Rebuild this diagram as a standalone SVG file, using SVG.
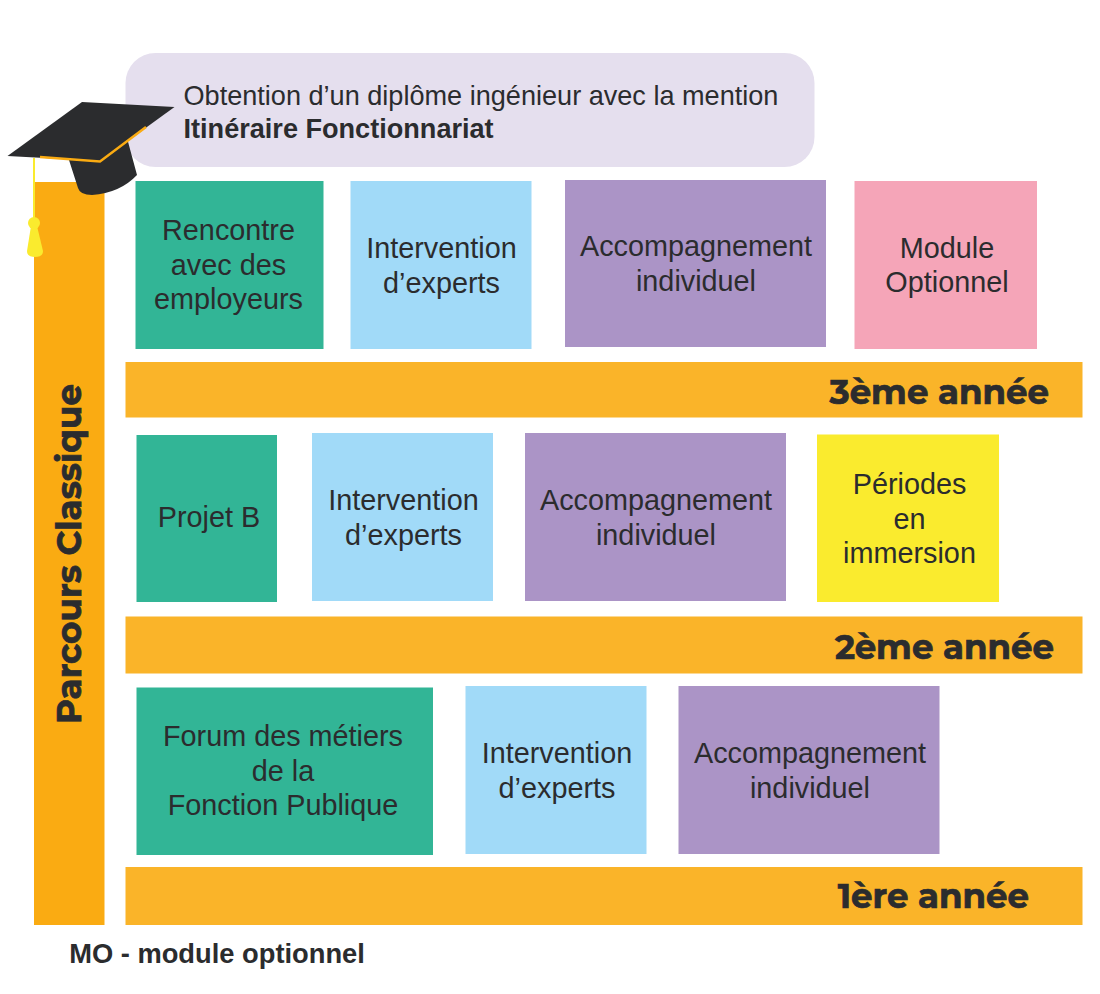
<svg xmlns="http://www.w3.org/2000/svg" width="1100" height="994" viewBox="0 0 1100 994">
<style>
text{font-family:"Liberation Sans",Arial,sans-serif;fill:#2b2c2e;text-anchor:middle}
.b{font-size:28.800px}
.t{font-size:27.100px;text-anchor:start}
.y{font-family:Montserrat,"Open Sans","DejaVu Sans",sans-serif;font-weight:700;font-size:34px;text-anchor:end;stroke:#2b2c2e;stroke-width:.7px}
.o{fill:#fab429}.g{fill:#32b596}.l{fill:#a1daf8}.p{fill:#ab94c6}
</style>
<rect width="1100" height="994" fill="#fff"/>
<g id="goal"><rect x="125.500" y="53" width="689" height="114" rx="30" fill="#e5dfee"/>
<text class="t" x="183.500" y="105">Obtention d’un diplôme ingénieur avec la mention</text>
<text class="t" x="183.500" y="138" font-weight="700">Itinéraire Fonctionnariat</text></g>
<g id="parcours"><rect x="34" y="182" width="70.500" height="743" fill="#faab12"/>
<text class="y" transform="translate(81 724) rotate(-90)" style="text-anchor:start" textLength="340" lengthAdjust="spacingAndGlyphs">Parcours Classique</text></g>
<g id="cap">
<path d="M69 160L78 188Q80 195 92 195Q120 193 137 175L127 138Z" fill="#2b2c2e"/>
<path d="M7.500 156L82 102L174.500 107L100 161Z" fill="#2b2c2e"/>
<path d="M40 157L100 161.500L146 127" fill="none" stroke="#faab12" stroke-width="2.500"/>
<path d="M34 158V220" stroke="#faeb2e" stroke-width="2" fill="none"/>
<circle cx="34" cy="223" r="6" fill="#faeb2e"/>
<path d="M31 226H37L43 251Q43 257 35 257Q27 257 27 251Z" fill="#faeb2e"/></g>
<g id="y3-a"><rect class="g" x="135.500" y="181" width="188" height="168"/><text class="b" x="228.500" y="239.500">Rencontre</text><text class="b" x="228.500" y="274.500">avec des</text><text class="b" x="228.500" y="309">employeurs</text></g>
<g id="y3-b"><rect class="l" x="350.500" y="181" width="181" height="168"/><text class="b" x="441.500" y="257.500">Intervention</text><text class="b" x="441.500" y="292.500">d’experts</text></g>
<g id="y3-c"><rect class="p" x="565" y="180" width="261" height="167"/><text class="b" x="696" y="256">Accompagnement</text><text class="b" x="696" y="290.500">individuel</text></g>
<g id="y3-d"><rect x="854.500" y="181" width="182.500" height="168" fill="#f5a5b8"/><text class="b" x="947" y="257.500">Module</text><text class="b" x="947" y="292">Optionnel</text></g>
<g id="y3"><rect class="o" x="125.500" y="362" width="957" height="55.500"/><text class="y" x="1049" y="404">3ème année</text></g>
<g id="y2-a"><rect class="g" x="136.500" y="435" width="140.500" height="167"/><text class="b" x="209" y="527">Projet B</text></g>
<g id="y2-b"><rect class="l" x="312" y="433" width="181" height="168"/><text class="b" x="403.500" y="509.500">Intervention</text><text class="b" x="403.500" y="544.500">d’experts</text></g>
<g id="y2-c"><rect class="p" x="525" y="433" width="261" height="168"/><text class="b" x="656" y="509.500">Accompagnement</text><text class="b" x="656" y="544.500">individuel</text></g>
<g id="y2-d"><rect x="817" y="434.500" width="182" height="167.500" fill="#faeb2e"/><text class="b" x="909.500" y="493.500">Périodes</text><text class="b" x="909.500" y="528.500">en</text><text class="b" x="909.500" y="563">immersion</text></g>
<g id="y2"><rect class="o" x="125.500" y="616.500" width="957" height="57"/><text class="y" x="1054" y="659">2ème année</text></g>
<g id="y1-a"><rect class="g" x="136.500" y="687.500" width="296.500" height="167.500"/><text class="b" x="283" y="745.500">Forum des métiers</text><text class="b" x="283" y="780.500">de la</text><text class="b" x="283" y="815">Fonction Publique</text></g>
<g id="y1-b"><rect class="l" x="465.500" y="686" width="181" height="168"/><text class="b" x="557" y="762.500">Intervention</text><text class="b" x="557" y="797.500">d’experts</text></g>
<g id="y1-c"><rect class="p" x="678.500" y="686" width="261" height="168"/><text class="b" x="810" y="762.500">Accompagnement</text><text class="b" x="810" y="797.500">individuel</text></g>
<g id="y1"><rect class="o" x="125.500" y="867" width="957" height="58"/><text class="y" x="1029" y="908">1ère année</text></g>
<text x="217" y="963" font-size="27.300" font-weight="700">MO - module optionnel</text>
<g id="connectors"/>
</svg>
